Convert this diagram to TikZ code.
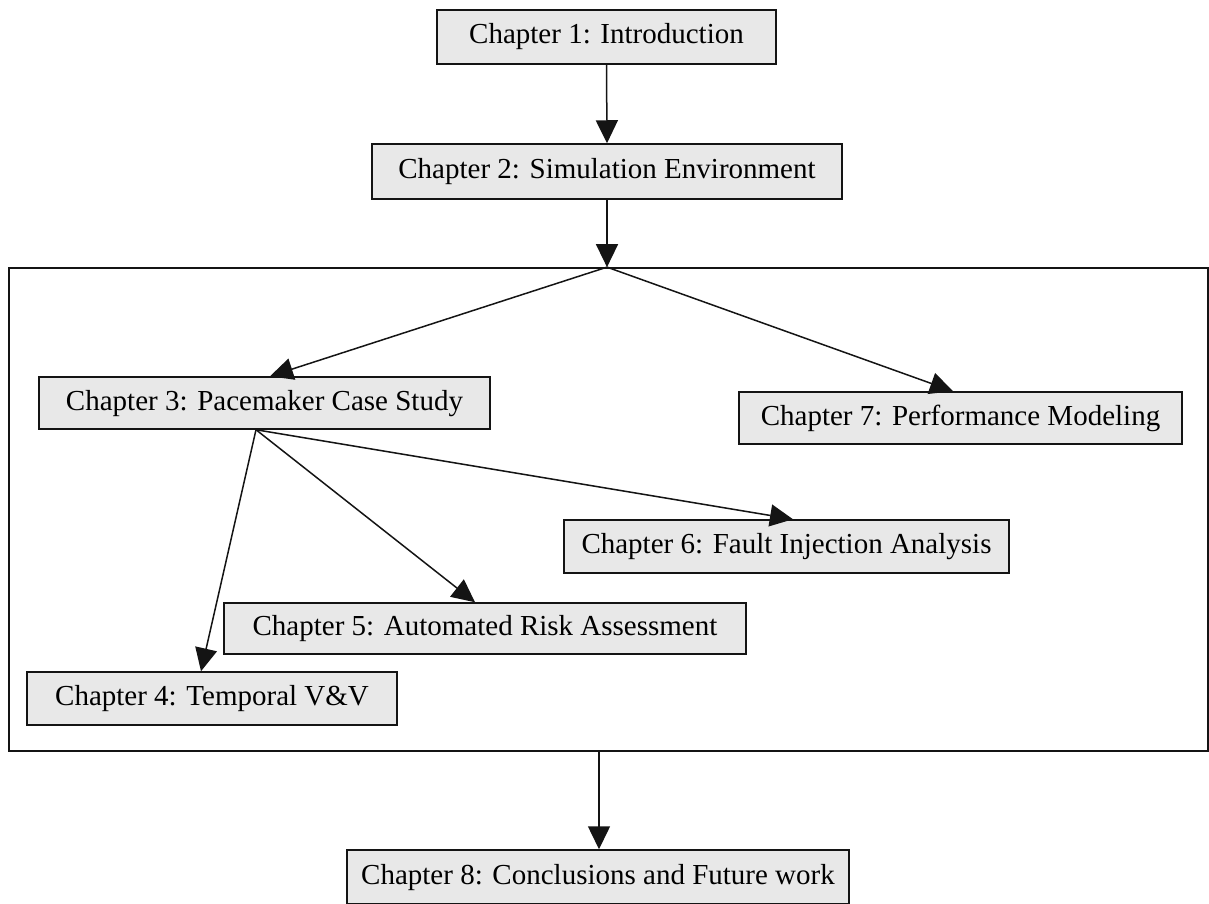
\documentclass[tikz,border=0pt]{standalone}
\usepackage{fontspec}
\setmainfont{Liberation Serif}
\usetikzlibrary{arrows.meta}
\definecolor{boxfill}{RGB}{232,232,232}
\definecolor{edgeink}{RGB}{20,20,20}
\begin{document}
\begin{tikzpicture}[x=1pt,y=-1pt,
  chapbox/.style={draw=edgeink,fill=boxfill,line width=1.5pt,inner sep=0pt,
    text height=20pt,text depth=6pt,font=\fontsize{29}{31}\selectfont},
  arr/.style={draw=edgeink,line width=1.5pt,-{Triangle[length=23pt,width=22pt]}},
  groupframe/.style={draw=edgeink,line width=1.7pt,inner sep=0pt}]
\useasboundingbox (0,0) rectangle (1209,904);

% cluster frame around chapters 3--7
\node[groupframe,minimum width=1199pt,minimum height=483pt] (grp) at (608.5,509.5) {};

% chapter boxes
\node[chapbox,minimum width=339pt,minimum height=54pt] (b1) at (606.5,37) {Chapter 1: Introduction};
\node[chapbox,minimum width=470pt,minimum height=55pt] (b2) at (607,171.5) {Chapter 2: Simulation Environment};
\node[chapbox,minimum width=451pt,minimum height=52pt] (b3) at (264.5,403) {Chapter 3: Pacemaker Case Study};
\node[chapbox,minimum width=443pt,minimum height=52pt] (b7) at (960.5,418) {Chapter 7: Performance Modeling};
\node[chapbox,minimum width=445pt,minimum height=53pt] (b6) at (786.5,546.5) {Chapter 6: Fault Injection Analysis};
\node[chapbox,minimum width=522pt,minimum height=51pt] (b5) at (485,628.5) {Chapter 5: Automated Risk Assessment};
\node[chapbox,minimum width=370pt,minimum height=53pt] (b4) at (212,698.5) {Chapter 4: Temporal V\&V};
\node[chapbox,minimum width=502pt,minimum height=54pt] (b8) at (598,877) {Chapter 8: Conclusions and Future work};

% branching points
\coordinate (hub) at (b2.south |- grp.north);
\coordinate (s3) at ([xshift=-8.5pt]b3.south);

% connectors
\draw[arr] (b1.south) -- (b2.north);
\draw[arr] (b2.south) -- (hub);
\draw[arr] (hub) -- ([xshift=5.5pt]b3.north);
\draw[arr] (hub) -- ([xshift=-7.5pt]b7.north);
\draw[arr] (s3) -- ([xshift=-11pt]b4.north);
\draw[arr] (s3) -- ([xshift=-10pt]b5.north);
\draw[arr] (s3) -- ([xshift=6.5pt]b6.north);
\draw[arr] ([xshift=1pt]b8.north |- grp.south) -- ([xshift=1pt]b8.north);
\end{tikzpicture}
\end{document}
